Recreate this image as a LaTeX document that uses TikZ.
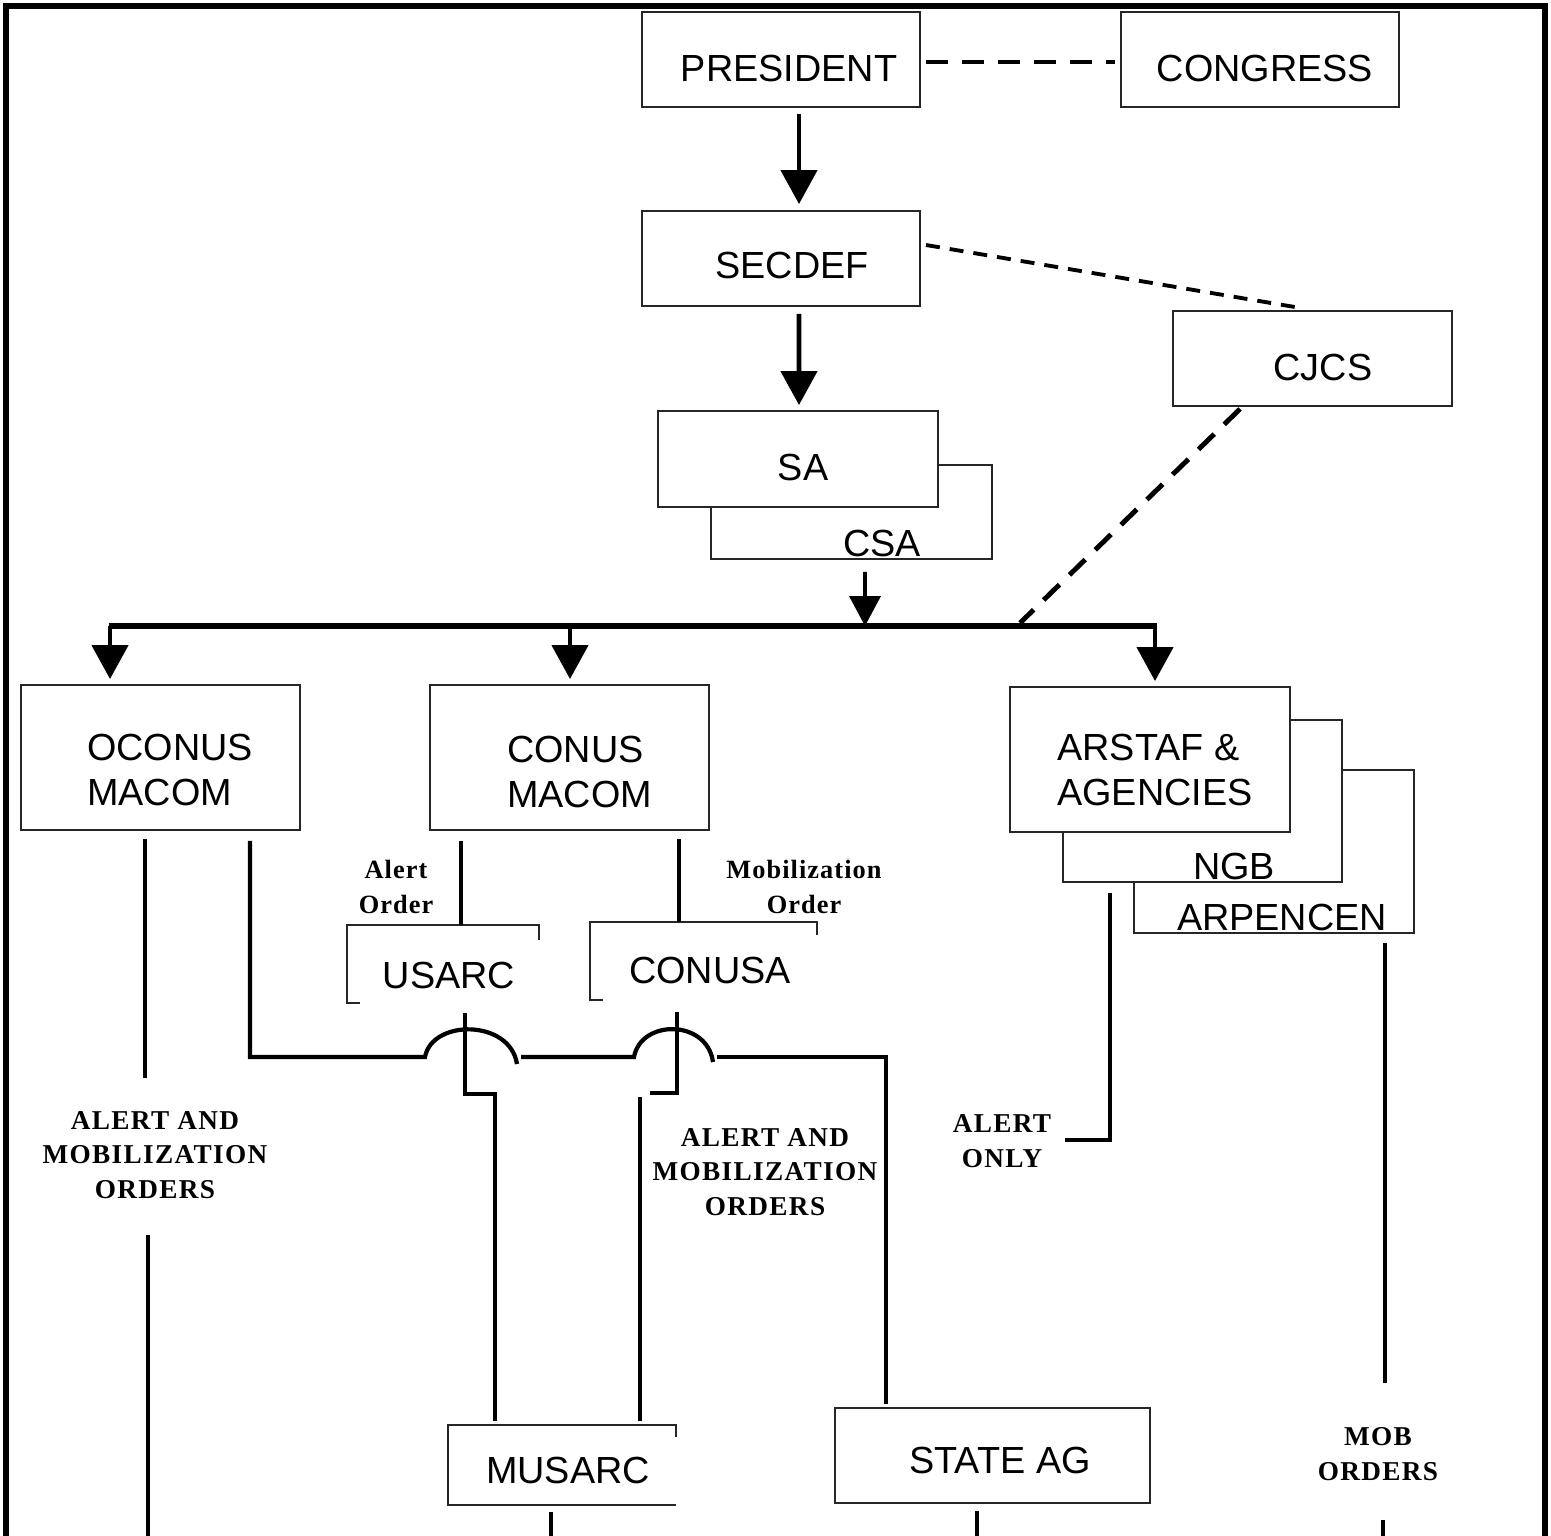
\documentclass[tikz,border=0pt]{standalone}
\usepackage{fontspec}
\newfontfamily\arialf{Liberation Sans}
\newfontfamily\timesf[LetterSpace=5]{Liberation Serif}
\newfontfamily\timessm[LetterSpace=4]{Liberation Serif}
\usetikzlibrary{arrows.meta,calc}
\begin{document}
\begin{tikzpicture}[x=0.02cm,y=-0.02cm,
  box/.style={draw=black!85,line width=1.1pt,fill=white,inner sep=0pt},
  bx/.style 2 args={box,minimum width={#1*0.02cm},minimum height={#2*0.02cm}},
  bt/.style={font=\arialf\fontsize{21.5}{25.6}\selectfont,inner sep=0pt},
  st/.style={font=\timesf\bfseries\fontsize{15.5}{19.8}\selectfont,align=center,inner sep=0pt},
  sm/.style={font=\timessm\bfseries\fontsize{15}{19.5}\selectfont,align=center,inner sep=0pt},
  thinline/.style={draw=black!85,line width=1.1pt},
  conn/.style={line width=2.4pt},
  busline/.style={line width=3.4pt},
  arr/.style={line width=2.6pt,-{Triangle[length=0.68cm,width=0.72cm]}},
  arrsm/.style={line width=2.2pt,-{Triangle[length=0.6cm,width=0.62cm]}},
  dsh/.style={line width=2.8pt,dash pattern=on 0.44cm off 0.28cm},
  dshs/.style={line width=2.2pt,dash pattern=on 0.28cm off 0.2cm}]
\useasboundingbox (0,0) rectangle (1551,1535);
\clip (0,0) rectangle (1551,1535);
\fill[white] (0,0) rectangle (1551,1535);
% frame
\draw[line width=3.4pt] (6,1560) -- (6,6) -- (1545,6) -- (1545,1560);

% back boxes first
\node[bx={280}{163}] (arpen) at (1274,851.5) {};
\node[bx={279}{162}] (ngb) at (1202.5,801) {};
\node[bx={280}{145}] (arstaf) at (1150,759.5) {};
\node[bx={281}{94}] (csa) at (851.5,512) {};
\node[bx={280}{96}] (sa) at (798,459) {};
\node[bx={278}{95}] (pres) at (781,59.5) {};
\node[bx={278}{95}] (cong) at (1260,59.5) {};
\node[bx={278}{95}] (secdef) at (781,258.5) {};
\node[bx={279}{95}] (cjcs) at (1312.5,358.5) {};
\node[bx={279}{145}] (oconus) at (160.5,757.5) {};
\node[bx={279}{145}] (conus) at (569.5,757.5) {};
\node[bx={315}{95}] (stateag) at (992.5,1455.5) {};

% box texts
\node[bt] (presT) at (789,68) {PRESIDENT};
\node[bt] (congT) at (1265,68) {CONGRESS};
\node[bt] (secdefT) at (792,265) {SECDEF};
\node[bt] (cjcsT) at (1323,367) {CJCS};
\node[bt] (saT) at (803,467) {SA};
\node[bt] (csaT) at (882,543) {CSA};
\node[bt,align=left] (oconusT) at (170,770) {OCONUS\\MACOM};
\node[bt,align=left] (conusT) at (579.5,772) {CONUS\\MACOM};
\node[bt,align=left] (arstafT) at (1155,769.5) {ARSTAF \&\\AGENCIES};
\node[bt] (ngbT) at (1234,866) {NGB};
\node[bt] (arpenT) at (1282,917) {ARPENCEN};
\node[bt] (usarc) at (449,975) {USARC};
\node[bt] (conusa) at (710,970) {CONUSA};
\node[bt] (musarc) at (568,1470) {MUSARC};
\node[bt] (stateagT) at (1000,1460) {STATE AG};

% open boxes
\draw[thinline] (539,940) -- (539,925) -- (347,925) -- (347,1003) -- (360,1003);
\draw[thinline] (817,935) -- (817,922) -- (590,922) -- (590,1000) -- (603,1000);
\draw[thinline] (676,1437) -- (676,1425) -- (448,1425) -- (448,1505) -- (676,1505);

% top connectors
\draw[dsh] ([xshift=0.1cm,yshift=-0.05cm]pres.east) -- ([xshift=-0.1cm,yshift=-0.05cm]cong.west);
\draw[arr] ([xshift=0.36cm,yshift=-0.12cm]pres.south) -- ([xshift=0.36cm,yshift=0.12cm]secdef.north);
\draw[dshs] ([xshift=0.1cm,yshift=0.27cm]secdef.east) -- ([xshift=-0.35cm,yshift=0.06cm]cjcs.north);
\draw[arr] ([xshift=0.36cm,yshift=-0.14cm]secdef.south) -- ([xshift=0.02cm,yshift=0.1cm]sa.north);

% bus
\coordinate (busL) at (110,626);
\coordinate (busC) at (570,626);
\coordinate (busM) at (865,626);
\coordinate (busD) at (1020,623);
\coordinate (busR) at (1155,626);
\draw[busline] ([xshift=-0.03cm]busL) -- ([xshift=0.03cm]busR);
\draw[arrsm] ([xshift=0.27cm,yshift=-0.24cm]csa.south) -- (busM);
\draw[dsh] ([xshift=-1.45cm,yshift=-0.04cm]cjcs.south) -- (busD);
\draw[arr,shorten >=0.1cm] (busL) -- (busL |- oconus.north);
\draw[arr,shorten >=0.1cm] (busC) -- (busC |- conus.north);
\draw[arr,shorten >=0.1cm] (busR) -- (busR |- arstaf.north);

% CONUS MACOM to USARC / CONUSA
\node[sm] (alertL) at (396,887) {Alert\\Order};
\node[sm] (mobL) at (804,887) {Mobilization\\Order};
\coordinate (usarcTop) at (461,925);
\coordinate (conusaTop) at (679,922);
\draw[conn] (conus.south -| usarcTop) ++(0,10) -- (usarcTop);
\draw[conn] (conus.south -| conusaTop) ++(0,8) -- (conusaTop);

% OCONUS left line
\node[st] (oclab) at (155,1155) {ALERT AND\\MOBILIZATION\\ORDERS};
\coordinate (oc1e) at (145,1078);
\draw[conn] (oconus.south -| oc1e) ++(0,8) -- (oc1e);
\coordinate (oc1s) at (148,1235);
\coordinate (oc1b) at (148,1560);
\draw[conn] (oc1s) -- (oc1b);

% OCONUS right line with hops to STATE AG
\coordinate (h0) at (250,1057);
\coordinate (sag) at (886,1057);
\draw[conn] (oconus.south -| h0) ++(0,10) -- (h0) -- (425,1057)
  .. controls (432,1019) and (510,1019) .. (517,1064);
\draw[conn] (521,1057) -- (634,1057)
  .. controls (641,1019) and (707,1019) .. (713,1062);
\draw[conn] (717,1057) -- (sag) -- ([yshift=0.06cm]stateag.north -| sag);

% USARC down to MUSARC
\draw[conn] (465,1013) -- (465,1094) -- (495,1094) -- (495,1421);
% CONUSA down to MUSARC
\draw[conn] (677,1012) -- (677,1093) -- (650,1093);
\draw[conn] (640,1097) -- (640,1421);
\node[st] (midlab) at (765,1172) {ALERT AND\\MOBILIZATION\\ORDERS};

% bottom exits
\draw[conn] (551,1512) -- (551,1560);
\draw[conn] ([yshift=-0.14cm]stateag.south -| 977,0) -- (977,1560);

% ARSTAF alert only
\node[st] (alonly) at (1002,1141) {ALERT\\ONLY};
\coordinate (al1) at (1110,1140);
\draw[conn] (1110,893) -- (al1) -- (1065,1140);

% ARPENCEN mob orders
\node[st] (moblab) at (1378,1454) {MOB\\ORDERS};
\draw[conn] (1385,943) -- (1385,1383);
\draw[conn] (1383,1520) -- (1383,1560);
\end{tikzpicture}
\end{document}
